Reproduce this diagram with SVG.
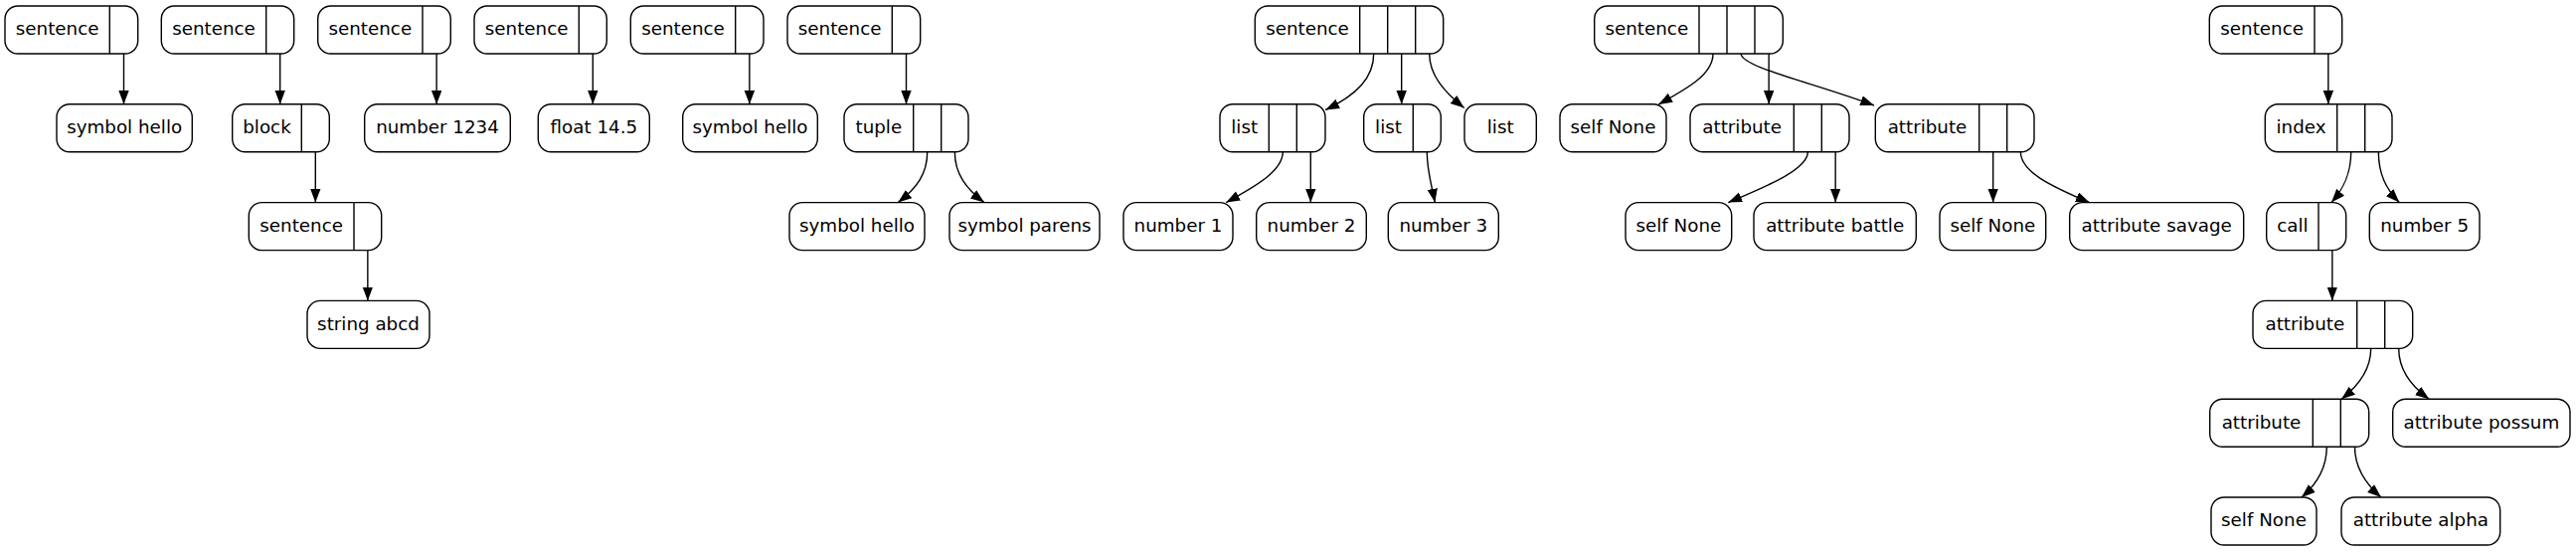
<svg xmlns="http://www.w3.org/2000/svg" width="2591" height="555" viewBox="0 0 2591 555">
<style>
.node rect{fill:#fff;stroke:#000;stroke-width:1.4}
.node line{stroke:#000;stroke-width:1.4}
.node text{font-family:"DejaVu Sans","Liberation Sans",sans-serif;font-size:18.3px;text-anchor:middle;fill:#000}
.edges path{fill:none;stroke:#000;stroke-width:1.4;marker-end:url(#a)}
</style>
<defs>
<marker id="a" markerUnits="userSpaceOnUse" markerWidth="16" markerHeight="12" refX="13.8" refY="5.2" orient="auto"><path d="M0,0 L13.8,5.2 L0,10.4 z" fill="#000"/></marker>
</defs>
<rect width="2591" height="555" fill="#fff"/>
<g class="edges" id="edges">
<path d="M124.5,54 V104.8"/>
<path d="M281.7,54 V104.8"/>
<path d="M317.3,152.8 V203.6"/>
<path d="M369.85,251.6 V302.4"/>
<path d="M439.15,54 V104.8"/>
<path d="M596.3,54 V104.8"/>
<path d="M753.85,54 V104.8"/>
<path d="M911.5,54 V104.8"/>
<path d="M932.7,152.8 C932.7,175 922,189 903.3,203.6"/>
<path d="M960.35,152.8 C960.35,175 972,190 990,203.6"/>
<path d="M1381.7,54 C1381.7,78 1365,95 1333.3,110.5"/>
<path d="M1409.7,54 V104.8"/>
<path d="M1437.7,54 C1437.7,75 1452,92 1472.7,108.5"/>
<path d="M1290.3,152.8 C1290.3,172 1262,188 1233.3,203.6"/>
<path d="M1318.3,152.8 V203.6"/>
<path d="M1435.3,152.8 C1435.3,172 1440,186 1443.3,203.6"/>
<path d="M1723,54 C1723,75 1697,89 1668.3,105"/>
<path d="M1751,54 C1753,68 1820,82 1885,106"/>
<path d="M1779.15,54 V104.8"/>
<path d="M1818.3,152.8 C1818.3,170 1780,186 1738.3,203.6"/>
<path d="M1846.15,152.8 V203.6"/>
<path d="M2004.7,152.8 V203.6"/>
<path d="M2032.35,152.8 C2032.35,172 2060,186 2101.7,203.6"/>
<path d="M2341.85,54 V104.8"/>
<path d="M2364.7,152.8 C2364.7,175 2357,190 2345,203.6"/>
<path d="M2392.35,152.8 C2392.35,175 2400,190 2413.3,203.6"/>
<path d="M2345.85,251.6 V302.4"/>
<path d="M2384.7,350.4 C2384.7,372 2372,388 2355,401.2"/>
<path d="M2412.7,350.4 C2412.7,372 2425,388 2443.3,401.2"/>
<path d="M2340.3,449.2 C2340.3,470 2330,487 2315,500"/>
<path d="M2368.5,449.2 C2368.5,470 2380,487 2395,500"/>
</g>
<g class="node" id="s1"><rect x="5" y="6" width="133.7" height="48" rx="13"/><line x1="110.3" y1="6" x2="110.3" y2="54"/><text x="57.65" y="35.3">sentence</text></g>
<g class="node" id="sym1"><rect x="57" y="104.8" width="136.3" height="48" rx="13"/><text x="125.15" y="134.1">symbol hello</text></g>
<g class="node" id="s2"><rect x="162.3" y="6" width="133.4" height="48" rx="13"/><line x1="267.7" y1="6" x2="267.7" y2="54"/><text x="215" y="35.3">sentence</text></g>
<g class="node" id="block"><rect x="233.7" y="104.8" width="97.6" height="48" rx="13"/><line x1="303.3" y1="104.8" x2="303.3" y2="152.8"/><text x="268.5" y="134.1">block</text></g>
<g class="node" id="s2b"><rect x="250.3" y="203.6" width="133.4" height="48" rx="13"/><line x1="356" y1="203.6" x2="356" y2="251.6"/><text x="303.15" y="232.9">sentence</text></g>
<g class="node" id="str"><rect x="309" y="302.4" width="123" height="48" rx="13"/><text x="370.5" y="331.7">string abcd</text></g>
<g class="node" id="s3"><rect x="319.7" y="6" width="133.6" height="48" rx="13"/><line x1="425" y1="6" x2="425" y2="54"/><text x="372.35" y="35.3">sentence</text></g>
<g class="node" id="num1234"><rect x="366.7" y="104.8" width="146.6" height="48" rx="13"/><text x="440" y="134.1">number 1234</text></g>
<g class="node" id="s4"><rect x="477" y="6" width="133.3" height="48" rx="13"/><line x1="582.3" y1="6" x2="582.3" y2="54"/><text x="529.65" y="35.3">sentence</text></g>
<g class="node" id="float"><rect x="541.3" y="104.8" width="112" height="48" rx="13"/><text x="597.3" y="134.1">float 14.5</text></g>
<g class="node" id="s5"><rect x="634.3" y="6" width="133.7" height="48" rx="13"/><line x1="739.7" y1="6" x2="739.7" y2="54"/><text x="687" y="35.3">sentence</text></g>
<g class="node" id="sym2"><rect x="686.7" y="104.8" width="135.6" height="48" rx="13"/><text x="754.5" y="134.1">symbol hello</text></g>
<g class="node" id="s6"><rect x="792" y="6" width="133.7" height="48" rx="13"/><line x1="897.3" y1="6" x2="897.3" y2="54"/><text x="844.65" y="35.3">sentence</text></g>
<g class="node" id="tuple"><rect x="849" y="104.8" width="125" height="48" rx="13"/><line x1="918.7" y1="104.8" x2="918.7" y2="152.8"/><line x1="946.7" y1="104.8" x2="946.7" y2="152.8"/><text x="883.85" y="134.1">tuple</text></g>
<g class="node" id="sym3"><rect x="794" y="203.6" width="136" height="48" rx="13"/><text x="862" y="232.9">symbol hello</text></g>
<g class="node" id="parens"><rect x="955" y="203.6" width="151" height="48" rx="13"/><text x="1030.5" y="232.9">symbol parens</text></g>
<g class="node" id="s7"><rect x="1262.3" y="6" width="189.4" height="48" rx="13"/><line x1="1367.7" y1="6" x2="1367.7" y2="54"/><line x1="1395.7" y1="6" x2="1395.7" y2="54"/><line x1="1423.7" y1="6" x2="1423.7" y2="54"/><text x="1315" y="35.3">sentence</text></g>
<g class="node" id="listA"><rect x="1227" y="104.8" width="106" height="48" rx="13"/><line x1="1276.3" y1="104.8" x2="1276.3" y2="152.8"/><line x1="1304.3" y1="104.8" x2="1304.3" y2="152.8"/><text x="1251.65" y="134.1">list</text></g>
<g class="node" id="listB"><rect x="1371.7" y="104.8" width="77.6" height="48" rx="13"/><line x1="1421.3" y1="104.8" x2="1421.3" y2="152.8"/><text x="1396.5" y="134.1">list</text></g>
<g class="node" id="listC"><rect x="1473" y="104.8" width="72.3" height="48" rx="13"/><text x="1509.15" y="134.1">list</text></g>
<g class="node" id="num1"><rect x="1130" y="203.6" width="110" height="48" rx="13"/><text x="1185" y="232.9">number 1</text></g>
<g class="node" id="num2"><rect x="1263.7" y="203.6" width="110.6" height="48" rx="13"/><text x="1319" y="232.9">number 2</text></g>
<g class="node" id="num3"><rect x="1396.3" y="203.6" width="111" height="48" rx="13"/><text x="1451.8" y="232.9">number 3</text></g>
<g class="node" id="s8"><rect x="1603.7" y="6" width="189.6" height="48" rx="13"/><line x1="1709" y1="6" x2="1709" y2="54"/><line x1="1737" y1="6" x2="1737" y2="54"/><line x1="1765" y1="6" x2="1765" y2="54"/><text x="1656.35" y="35.3">sentence</text></g>
<g class="node" id="self1"><rect x="1569" y="104.8" width="107" height="48" rx="13"/><text x="1622.5" y="134.1">self None</text></g>
<g class="node" id="attrA"><rect x="1700" y="104.8" width="160" height="48" rx="13"/><line x1="1804.3" y1="104.8" x2="1804.3" y2="152.8"/><line x1="1832.3" y1="104.8" x2="1832.3" y2="152.8"/><text x="1752.15" y="134.1">attribute</text></g>
<g class="node" id="attrB"><rect x="1886.3" y="104.8" width="159.7" height="48" rx="13"/><line x1="1990.7" y1="104.8" x2="1990.7" y2="152.8"/><line x1="2018.7" y1="104.8" x2="2018.7" y2="152.8"/><text x="1938.5" y="134.1">attribute</text></g>
<g class="node" id="self2"><rect x="1635" y="203.6" width="106.7" height="48" rx="13"/><text x="1688.35" y="232.9">self None</text></g>
<g class="node" id="battle"><rect x="1764" y="203.6" width="163.3" height="48" rx="13"/><text x="1845.65" y="232.9">attribute battle</text></g>
<g class="node" id="self3"><rect x="1951" y="203.6" width="106.7" height="48" rx="13"/><text x="2004.35" y="232.9">self None</text></g>
<g class="node" id="savage"><rect x="2081.7" y="203.6" width="175" height="48" rx="13"/><text x="2169.2" y="232.9">attribute savage</text></g>
<g class="node" id="s9"><rect x="2222.3" y="6" width="133.4" height="48" rx="13"/><line x1="2328" y1="6" x2="2328" y2="54"/><text x="2275.15" y="35.3">sentence</text></g>
<g class="node" id="index"><rect x="2278.3" y="104.8" width="127.7" height="48" rx="13"/><line x1="2350.7" y1="104.8" x2="2350.7" y2="152.8"/><line x1="2378.7" y1="104.8" x2="2378.7" y2="152.8"/><text x="2314.5" y="134.1">index</text></g>
<g class="node" id="call"><rect x="2279.7" y="203.6" width="80" height="48" rx="13"/><line x1="2332" y1="203.6" x2="2332" y2="251.6"/><text x="2305.85" y="232.9">call</text></g>
<g class="node" id="num5"><rect x="2383.3" y="203.6" width="110.7" height="48" rx="13"/><text x="2438.65" y="232.9">number 5</text></g>
<g class="node" id="attrC"><rect x="2266" y="302.4" width="160.7" height="48" rx="13"/><line x1="2370.7" y1="302.4" x2="2370.7" y2="350.4"/><line x1="2398.7" y1="302.4" x2="2398.7" y2="350.4"/><text x="2318.35" y="331.7">attribute</text></g>
<g class="node" id="attrD"><rect x="2222.7" y="401.2" width="160" height="48" rx="13"/><line x1="2326.3" y1="401.2" x2="2326.3" y2="449.2"/><line x1="2354.3" y1="401.2" x2="2354.3" y2="449.2"/><text x="2274.5" y="430.5">attribute</text></g>
<g class="node" id="possum"><rect x="2406.7" y="401.2" width="178.3" height="48" rx="13"/><text x="2495.85" y="430.5">attribute possum</text></g>
<g class="node" id="self4"><rect x="2224" y="500" width="106" height="48" rx="13"/><text x="2277" y="529.3">self None</text></g>
<g class="node" id="alpha"><rect x="2355" y="500" width="159.7" height="48" rx="13"/><text x="2434.85" y="529.3">attribute alpha</text></g>
</svg>
